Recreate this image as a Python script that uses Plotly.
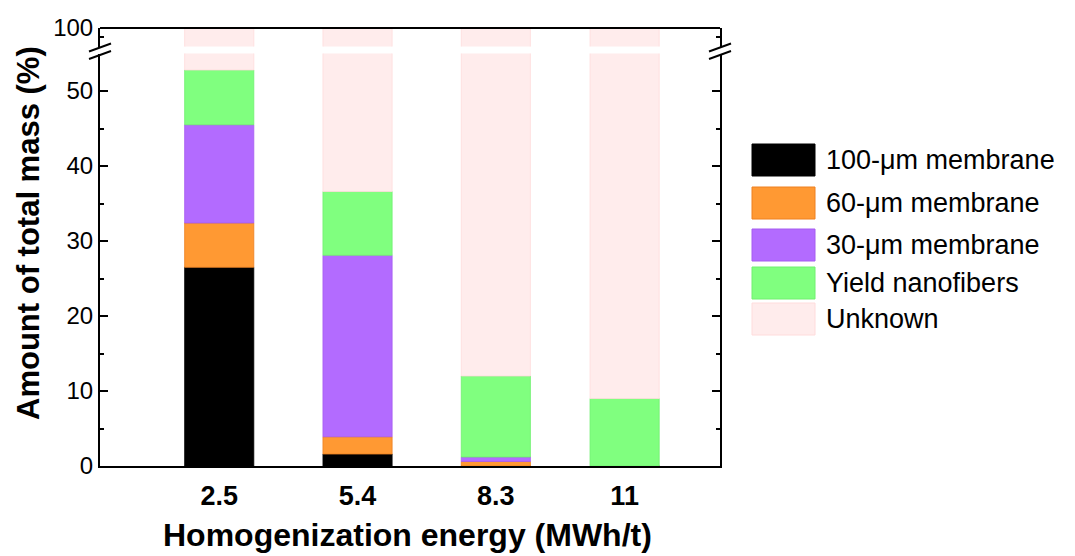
import numpy as np
import plotly.graph_objects as go

# ---- data ----
energy = [2.5, 5.4, 8.3, 11]
energy_labels = ["2.5", "5.4", "8.3", "11"]
series_names = ["100-μm membrane", "60-μm membrane", "30-μm membrane",
                "Yield nanofibers", "Unknown"]
m100 = [26.5, 1.6, 0.0, 0.0]
m60 = [5.9, 2.3, 0.6, 0.0]
m30 = [13.1, 24.2, 0.6, 0.0]
yield_nf = [7.3, 8.5, 10.8, 9.0]
known_total = np.array(m100) + np.array(m60) + np.array(m30) + np.array(yield_nf)
unknown = list(100 - known_total)
lower_ticks = [0, 10, 20, 30, 40, 50]
upper_ticks = [100]

# ---- styles ----
colors = ["#000000", "#FF9933", "#B36BFF", "#80FF7F", "#FFECEC"]
edge = ["#000000", "#EE8020", "#A65CF0", "#70F070", "#FFDCDC"]
FONT = "Liberation Sans, Arial, sans-serif"

OFF = 8  # page body margin offset
W, H = 1075 - OFF, 556 - OFF
L, T = 100 - OFF, 28 - OFF
PW, PH = 620, 438
R, B = W - L - PW, H - T - PH
def px_x(px):  # page pixel -> paper
    return (px - OFF - L) / PW
def px_y(py):
    return (T + PH - (py - OFF)) / PH

fig = go.Figure()
series = [m100, m60, m30, yield_nf, unknown]
base = np.zeros(len(energy))
for name, vals, c, e in zip(series_names, series, colors, edge):
    for ax in ["y", "y2"]:
        fig.add_trace(go.Bar(
            x=energy, y=vals, base=base.copy(), width=1.45, name=name,
            marker=dict(color=c, line=dict(color=e, width=0.8)),
            yaxis=ax, showlegend=False, hoverinfo="skip"))
    base = base + np.array(vals)

lower_top = px_y(53.5)
upper_bot = px_y(46.5)

fig.update_layout(
    width=W, height=H, margin=dict(l=L, r=R, t=T, b=B, autoexpand=False),
    paper_bgcolor="white", plot_bgcolor="white",
    font=dict(family=FONT, color="black"),
    showlegend=False, barmode="overlay",
    xaxis=dict(range=[0, 13], tickvals=energy, ticktext=energy_labels,
               showline=True, linecolor="black", linewidth=2,
               ticks="outside", ticklen=5, tickcolor="rgba(0,0,0,0)",
               tickfont=dict(size=27, weight="bold", family=FONT),
               showgrid=False, zeroline=False, anchor="y"),
    yaxis=dict(domain=[0, lower_top], range=[0, 55], tickvals=lower_ticks,
               showline=True, linecolor="black", linewidth=2, mirror="ticks",
               ticks="inside", ticklen=8, tickwidth=2, tickcolor="black",
               minor=dict(dtick=5, ticks="inside", ticklen=4, tickwidth=2,
                          tickcolor="black"),
               tickfont=dict(size=24, family=FONT),
               showgrid=False, zeroline=False),
    yaxis2=dict(domain=[upper_bot, 1], range=[95, 100], tickvals=upper_ticks,
                ticktext=["100"], anchor="x",
                showline=True, linecolor="black", linewidth=2, mirror="ticks",
                ticks="inside", ticklen=8, tickwidth=2, tickcolor="black",
                minor=dict(tickvals=[97.5], ticks="inside", ticklen=4,
                           tickwidth=2, tickcolor="black"),
                tickfont=dict(size=24, family=FONT),
                showgrid=False, zeroline=False),
)

shapes = []
# top frame line
shapes.append(dict(type="line", xref="paper", yref="paper", x0=0, x1=1,
                   y0=1, y1=1, line=dict(color="black", width=2)))
# break marks on both sides
for xc in [100, 720]:
    for yc in [47.5, 55.0]:
        shapes.append(dict(type="line", xref="paper", yref="paper",
                           x0=px_x(xc - 11), y0=px_y(yc + 4),
                           x1=px_x(xc + 11), y1=px_y(yc - 4),
                           line=dict(color="black", width=2)))

# legend (manual, large swatches)
annotations = []
row_centers = [160, 203, 245, 283, 319]
sw_h = 32
for name, c, e, yc in zip(series_names, colors, edge, row_centers):
    shapes.append(dict(type="rect", xref="paper", yref="paper",
                       x0=px_x(752), x1=px_x(815),
                       y0=px_y(yc + sw_h / 2), y1=px_y(yc - sw_h / 2),
                       fillcolor=c, line=dict(color=e, width=1)))
    annotations.append(dict(text=name, xref="paper", yref="paper",
                            x=px_x(824), y=px_y(yc), xanchor="left",
                            yanchor="middle", showarrow=False,
                            font=dict(size=27, family=FONT, color="black")))

annotations.append(dict(text="Amount of total mass (%)", textangle=-90,
                        xref="paper", yref="paper", x=px_x(29), y=px_y(233),
                        xanchor="center", yanchor="middle", showarrow=False,
                        font=dict(size=31, family=FONT, weight="bold")))
annotations.append(dict(text="Homogenization energy (MWh/t)",
                        xref="paper", yref="paper", x=px_x(407), y=px_y(554),
                        xanchor="center", yanchor="bottom", showarrow=False,
                        borderpad=0,
                        font=dict(size=32, family=FONT, weight="bold")))

fig.update_layout(shapes=shapes, annotations=annotations)
fig.write_html("out.html")
